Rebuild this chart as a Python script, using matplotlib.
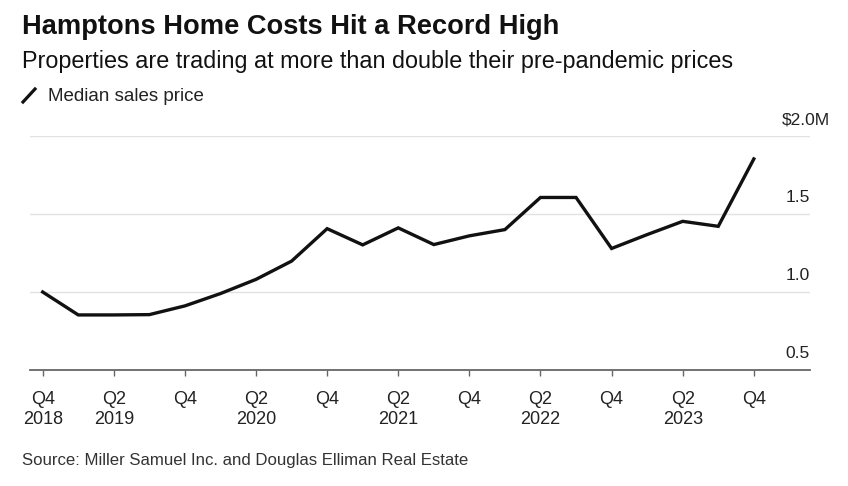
import numpy as np
import matplotlib
matplotlib.use('Agg')
import matplotlib.pyplot as plt
from matplotlib.lines import Line2D
from matplotlib.transforms import blended_transform_factory, offset_copy

plt.rcParams['font.family'] = ['Liberation Sans', 'DejaVu Sans']

# quarterly median sales price, $M
quarters = ['Q4 2018', 'Q1 2019', 'Q2 2019', 'Q3 2019', 'Q4 2019',
            'Q1 2020', 'Q2 2020', 'Q3 2020', 'Q4 2020',
            'Q1 2021', 'Q2 2021', 'Q3 2021', 'Q4 2021',
            'Q1 2022', 'Q2 2022', 'Q3 2022', 'Q4 2022',
            'Q1 2023', 'Q2 2023', 'Q3 2023', 'Q4 2023']
prices = [1.00, 0.853, 0.853, 0.855, 0.911,
          0.99, 1.081, 1.198, 1.406,
          1.302, 1.411, 1.304, 1.36,
          1.40, 1.606, 1.606, 1.279,
          1.368, 1.453, 1.421, 1.853]
tick_labels = ['Q4\n2018', 'Q2\n2019', 'Q4', 'Q2\n2020', 'Q4', 'Q2\n2021',
               'Q4', 'Q2\n2022', 'Q4', 'Q2\n2023', 'Q4']
y_ticks = [0.5, 1.0, 1.5, 2.0]
y_labels = ['0.5', '1.0', '1.5', '$2.0M']

W, H = 848, 486
fig = plt.figure(figsize=(W / 100, H / 100), dpi=100)


def fx(px):
    return px / W


def fy(py):
    return 1 - py / H


ax = fig.add_axes([fx(30), fy(370), fx(810) - fx(30), fy(136) - fy(370)])

x = np.arange(len(quarters))
ax.plot(x, prices, color='#111111', lw=2.4, solid_joinstyle='miter', zorder=3)

ax.set_xlim(-0.357, 21.58)
ax.set_ylim(0.5, 2.0)

for v in y_ticks[1:]:
    ax.axhline(v, color='#e2e2e2', lw=1.0, zorder=1)

for s in ['top', 'left', 'right']:
    ax.spines[s].set_visible(False)
ax.spines['bottom'].set_color('#666666')
ax.spines['bottom'].set_linewidth(1.3)

ax.set_yticks([])
ax.set_xticks(x[::2])
ax.set_xticklabels(tick_labels, fontsize=13, color='#222222', linespacing=1.28)
ax.tick_params(axis='x', length=4, width=1, color='#666666', pad=11)

trans = blended_transform_factory(ax.transAxes, ax.transData)
for v, lab in zip(y_ticks, y_labels):
    t = trans
    if lab.endswith('M'):
        t = offset_copy(trans, fig=fig, x=20, y=0, units='dots')
    ax.text(1.0, v, lab, transform=offset_copy(t, fig=fig, x=0, y=9, units='dots'),
            ha='right', va='bottom', fontsize=12.5, color='#222222')

fig.text(fx(22), fy(34), 'Hamptons Home Costs Hit a Record High',
         fontsize=19.6, fontweight='bold', color='#111111', va='baseline')
fig.text(fx(22), fy(68), 'Properties are trading at more than double their pre-pandemic prices',
         fontsize=16.8, color='#111111', va='baseline')
fig.add_artist(Line2D([fx(23), fx(35)], [fy(102), fy(89)], color='#111111', lw=2.3))
fig.text(fx(48), fy(101), 'Median sales price', fontsize=13.5, color='#222222', va='baseline')
fig.text(fx(22), fy(465), 'Source: Miller Samuel Inc. and Douglas Elliman Real Estate',
         fontsize=12.1, color='#333333', va='baseline')

fig.savefig('out.png', dpi=100)
